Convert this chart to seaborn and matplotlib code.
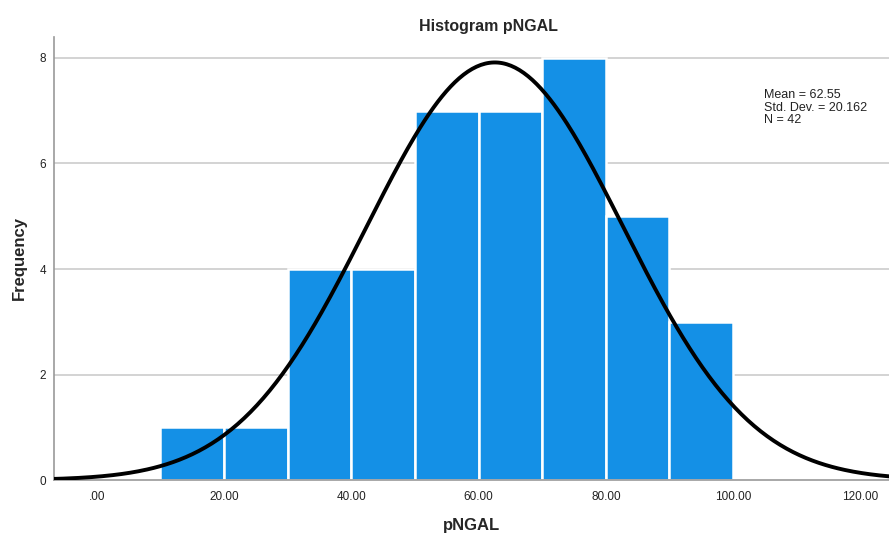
import numpy as np
import pandas as pd
import matplotlib
matplotlib.use('Agg')
import matplotlib.pyplot as plt
import seaborn as sns

# histogram bins
bin_edges = [10, 20, 30, 40, 50, 60, 70, 80, 90, 100]
counts = [1, 1, 4, 4, 7, 7, 8, 5, 3]
mean_val = 62.55
std_val = 20.162
n_val = 42

sns.set_style('white')
plt.rcParams['font.family'] = ['Liberation Sans', 'DejaVu Sans']

mids = [(a + b) / 2 for a, b in zip(bin_edges[:-1], bin_edges[1:])]
df = pd.DataFrame({'pNGAL': mids, 'count': counts})

fig = plt.figure(figsize=(8.89, 5.34), dpi=100)
ax = fig.add_axes([0.061, 0.101, 0.939, 0.830])

for yv in [2, 4, 6, 8]:
    ax.axhline(yv, color='#cccccc', lw=1.2, zorder=0)

sns.histplot(data=df, x='pNGAL', weights='count', bins=bin_edges,
             color='#1490e6', alpha=1, edgecolor='white', linewidth=1.8,
             ax=ax, zorder=2)

# normal curve scaled to the bars
width = bin_edges[1] - bin_edges[0]
xs = np.linspace(-8, 127, 400)
ys = sum(counts) * width * np.exp(-0.5 * ((xs - mean_val) / std_val) ** 2) / (std_val * np.sqrt(2 * np.pi))
sns.lineplot(x=xs, y=ys, color='black', lw=2.8, ax=ax, zorder=3)

ax.set_xlim(-6.7, 124.5)
ax.set_ylim(0, 8.4)
ax.set_xticks([0, 20, 40, 60, 80, 100, 120])
ax.set_xticklabels(['.00', '20.00', '40.00', '60.00', '80.00', '100.00', '120.00'])
ax.set_yticks([0, 2, 4, 6, 8])
ax.tick_params(axis='both', length=0, labelsize=8.5, colors='#222222', pad=6)
ax.tick_params(axis='x', pad=8)

for s in ['top', 'right']:
    ax.spines[s].set_visible(False)
for s in ['left', 'bottom']:
    ax.spines[s].set_color('#999999')
    ax.spines[s].set_linewidth(1.2)

ax.set_xlabel('pNGAL', fontsize=12, fontweight='bold', labelpad=11)
ax.set_ylabel('Frequency', fontsize=12, fontweight='bold', labelpad=9)
ax.set_title('Histogram pNGAL', fontsize=11.5, fontweight='bold', pad=4, x=0.52)

ax.text(0.85, 0.882, f'Mean = {mean_val}\nStd. Dev. = {std_val}\nN = {n_val}',
        transform=ax.transAxes, fontsize=9, va='top', ha='left',
        linespacing=1.05, color='#222222')

fig.savefig('out.png', dpi=100)
